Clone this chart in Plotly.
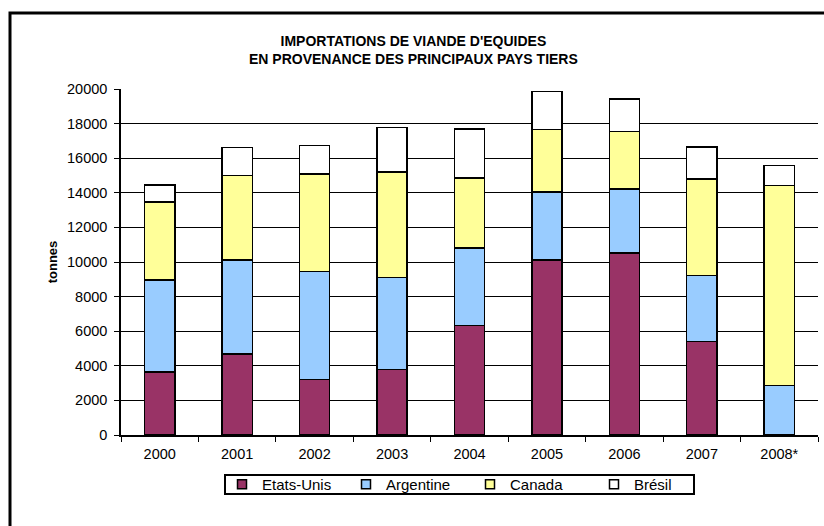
import plotly.graph_objects as go

years = ["2000", "2001", "2002", "2003", "2004", "2005", "2006", "2007", "2008*"]
etats_unis = [3650, 4690, 3200, 3780, 6330, 10130, 10510, 5400, 0]
argentine = [5320, 5420, 6250, 5320, 4490, 3930, 3700, 3820, 2870]
canada = [4510, 4880, 5650, 6110, 4050, 3590, 3340, 5570, 11550]
bresil = [960, 1640, 1640, 2570, 2820, 2220, 1870, 1850, 1160]

series_names = ["Etats-Unis", "Argentine", "Canada", "Brésil"]
series_values = [etats_unis, argentine, canada, bresil]
series_colors = ["#993366", "#99CCFF", "#FFFF99", "#FFFFFF"]

title_lines = ["IMPORTATIONS DE VIANDE D'EQUIDES", "EN PROVENANCE DES PRINCIPAUX PAYS TIERS"]

W, H = 824, 526
L, R, T, B = 121, 6, 89, 91
pw, ph = W - L - R, H - T - B

font = "Liberation Sans, Arial, sans-serif"


def px_x(x):
    return (x - L) / pw


def px_y(y):
    return (H - B - y) / ph


fig = go.Figure()
for name, vals, col in zip(series_names, series_values, series_colors):
    fig.add_trace(go.Bar(
        x=years, y=vals, name=name, showlegend=False,
        marker=dict(color=col, line=dict(color="black", width=1.5)),
    ))
# legend entries (square swatches like the original)
for name, col in zip(series_names, series_colors):
    fig.add_trace(go.Scatter(
        x=[None], y=[None], mode="markers", name=name, showlegend=True,
        marker=dict(symbol="square", size=9, color=col, line=dict(color="black", width=1.5)),
    ))

fig.update_layout(
    width=W, height=H,
    margin=dict(l=L, r=R, t=T, b=B),
    barmode="stack",
    bargap=0.61,
    plot_bgcolor="white",
    paper_bgcolor="white",
    font=dict(family=font, size=14.5, color="black"),
    annotations=[dict(
        text="<b>" + "<br>".join(title_lines) + "</b>", showarrow=False,
        xref="paper", yref="paper",
        x=px_x(W / 2 + 1), y=px_y(50),
        xanchor="center", yanchor="middle", align="center",
        font=dict(family=font, size=14, color="black"),
    )],
    showlegend=True,
    legend=dict(
        orientation="h",
        x=px_x(222), xanchor="left",
        y=px_y(484.5), yanchor="middle",
        borderwidth=0, bgcolor="rgba(0,0,0,0)",
        font=dict(family=font, size=15),
        entrywidth=79, traceorder="normal",
    ),
    xaxis=dict(
        type="category",
        showline=True, linecolor="black", linewidth=1.5,
        ticks="outside", tickson="boundaries", ticklen=5, tickcolor="black",
        tickfont=dict(size=14.5),
        ticklabelstandoff=5,
        showgrid=False,
    ),
    yaxis=dict(
        range=[0, 20000],
        dtick=2000,
        tickformat="d",
        showline=True, linecolor="black", linewidth=1.5,
        ticks="outside", ticklen=5, tickcolor="black",
        showgrid=True, gridcolor="black", gridwidth=1,
        tickfont=dict(size=14.5),
        ticklabelstandoff=4,
        title=dict(text="<b>tonnes</b>", font=dict(size=13), standoff=6),
        zeroline=False,
    ),
    shapes=[
        dict(
            type="rect", xref="paper", yref="paper",
            x0=px_x(10), x1=px_x(W + 20),
            y0=px_y(H + 20), y1=px_y(13),
            line=dict(color="black", width=3),
            fillcolor="rgba(0,0,0,0)",
            layer="below",
        ),
        dict(
            type="rect", xref="paper", yref="paper",
            x0=px_x(225), x1=px_x(694),
            y0=px_y(494), y1=px_y(475),
            line=dict(color="black", width=2),
            fillcolor="rgba(0,0,0,0)",
            layer="below",
        ),
    ],
)

fig.write_html("out.html")
